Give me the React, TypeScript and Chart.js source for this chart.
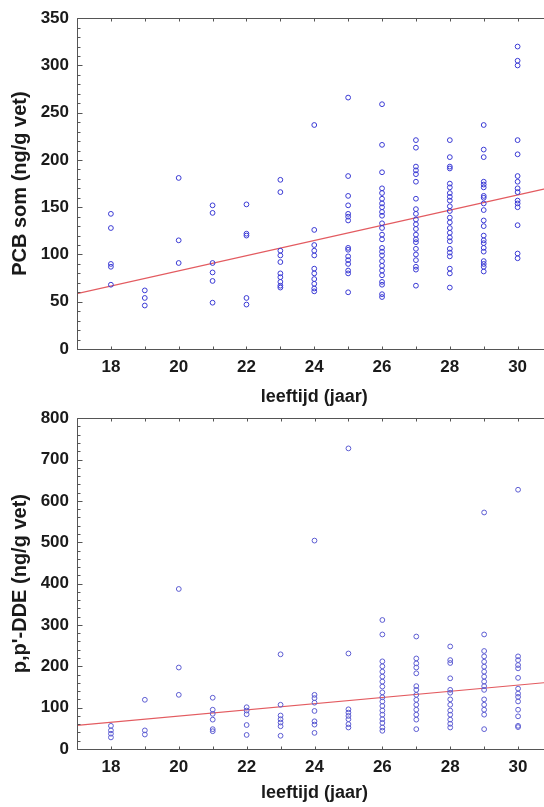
import React, { useEffect, useRef } from "react";
import { Chart, registerables } from "chart.js";

Chart.register(...registerables);

// ---- data ----
const ages = [18, 19, 20, 21, 22, 23, 24, 25, 26, 27, 28, 29, 30];

const pcbByAge = [
  [143, 128, 90, 87, 68],
  [62, 54, 46],
  [181, 115, 91],
  [152, 144, 91, 81, 72, 49],
  [153, 122, 120, 54, 47],
  [179, 166, 104, 99, 92, 80, 76, 71, 67, 65],
  [237, 126, 110, 104, 99, 85, 80, 74, 69, 64, 61],
  [266, 183, 162, 152, 143, 140, 136, 107, 105, 98, 94, 90, 83, 80, 60],
  [259, 216, 187, 170, 165, 159, 154, 150, 145, 141, 133, 128, 121, 116, 107, 103, 99, 93, 88, 83, 78, 71, 68, 58, 55],
  [221, 213, 193, 189, 185, 177, 159, 148, 143, 137, 132, 127, 121, 116, 113, 106, 100, 94, 87, 84, 67],
  [221, 203, 193, 191, 175, 171, 165, 161, 157, 151, 146, 139, 134, 128, 123, 118, 114, 106, 102, 98, 85, 80, 65],
  [237, 211, 203, 177, 174, 171, 162, 160, 154, 147, 136, 130, 120, 115, 112, 107, 103, 93, 90, 87, 82],
  [320, 305, 300, 221, 206, 183, 177, 170, 166, 157, 154, 150, 131, 101, 96],
];

const ddeByAge = [
  [56, 45, 37, 28],
  [119, 45, 35],
  [387, 197, 131],
  [124, 95, 85, 71, 48, 43],
  [101, 93, 84, 58, 34],
  [229, 107, 81, 72, 64, 55, 32],
  [504, 131, 123, 112, 92, 67, 59, 39],
  [727, 231, 96, 88, 80, 72, 60, 52],
  [312, 277, 212, 200, 187, 175, 163, 151, 137, 125, 115, 104, 93, 83, 72, 63, 52, 44],
  [272, 219, 207, 197, 183, 152, 143, 131, 119, 107, 95, 83, 71, 48],
  [248, 215, 208, 171, 143, 136, 120, 107, 93, 83, 71, 61, 52],
  [572, 277, 237, 224, 211, 199, 187, 175, 163, 152, 143, 120, 107, 95, 83, 48],
  [627, 224, 215, 203, 195, 172, 146, 134, 126, 115, 95, 79, 56, 53],
];

// regression line end points (x = 17 and x = 31)
const trendX = [17, 31];
const pcbTrend = [58.5, 171];
const ddeTrend = [57, 162];

const xRange = [17, 31];
const pcbRange = [0, 350];
const ddeRange = [0, 800];

const xTitle = "leeftijd (jaar)";
const pcbTitle = "PCB som (ng/g vet)";
const ddeTitle = "p,p'-DDE (ng/g vet)";

const FONT = "'Liberation Sans', Arial, sans-serif";

const toPoints = (byAge: number[][]) =>
  ages.flatMap((a, i) => byAge[i].map((v) => ({ x: a, y: v })));

const framePlugin = {
  id: "frame",
  afterDraw(chart: any, _args: any, opts: any) {
    const { ctx, chartArea } = chart;
    const { left, top, right, bottom } = chartArea;
    const x = chart.scales.x;
    const y = chart.scales.y;
    ctx.save();
    ctx.strokeStyle = opts.color || "#555";
    ctx.lineWidth = 1;
    const L = Math.round(left) + 0.5;
    const T = Math.round(top) + 0.5;
    const B = Math.round(bottom) + 0.5;
    ctx.beginPath();
    ctx.moveTo(right + 10, T);
    ctx.lineTo(L, T);
    ctx.lineTo(L, B);
    ctx.lineTo(right + 10, B);
    ctx.stroke();
    ctx.beginPath();
    for (let v = x.min; v <= x.max; v += 1) {
      const px = Math.round(x.getPixelForValue(v)) + 0.5;
      ctx.moveTo(px, T);
      ctx.lineTo(px, T + 3);
      ctx.moveTo(px, B);
      ctx.lineTo(px, B - 3);
    }
    for (let v = y.min; v <= y.max; v += opts.minor) {
      const py = Math.round(y.getPixelForValue(v)) + 0.5;
      const major = v % opts.major === 0;
      ctx.moveTo(L, py);
      ctx.lineTo(L + (major ? 5 : 3), py);
    }
    ctx.stroke();
    ctx.restore();
  },
};

type PanelProps = {
  byAge: number[][];
  trend: number[];
  yRange: number[];
  yStep: number;
  yMinor: number;
  yTitle: string;
  height: number;
  top: number;
  tickPad: number;
  titlePad: number;
  pointColor: string;
  weight: string;
  tickSize: number;
  xTitleSize: number;
  yTitleSize: number;
  yTitlePad: number;
};

function Panel(p: PanelProps) {
  const ref = useRef<HTMLCanvasElement>(null);
  useEffect(() => {
    if (!ref.current) return;
    const chart = new Chart(ref.current, {
      type: "scatter",
      data: {
        datasets: [
          {
            type: "line",
            data: trendX.map((xv, i) => ({ x: xv, y: p.trend[i] })),
            borderColor: "#e35b60",
            borderWidth: 1.2,
            pointRadius: 0,
            fill: false,
            order: 2,
          } as any,
          {
            data: toPoints(p.byAge),
            pointRadius: 2.4,
            pointBorderWidth: 1,
            borderColor: p.pointColor,
            backgroundColor: "rgba(0,0,0,0)",
            pointBackgroundColor: "rgba(0,0,0,0)",
            order: 1,
          } as any,
        ],
      },
      options: {
        responsive: false,
        animation: false,
        devicePixelRatio: 1,
        layout: { padding: { top: 16, left: 0, right: 8, bottom: 0 } },
        plugins: {
          legend: { display: false },
          tooltip: { enabled: false },
          frame: { minor: p.yMinor, major: p.yStep, color: "#555" },
        } as any,
        scales: {
          x: {
            type: "linear",
            min: xRange[0],
            max: xRange[1],
            grid: { display: false, drawTicks: false },
            border: { display: false },
            afterFit: (s: any) => {
              s.height = p.height - 349;
            },
            ticks: {
              stepSize: 1,
              autoSkip: false,
              maxRotation: 0,
              padding: p.tickPad,
              color: "#1a1a1a",
              font: { family: FONT, size: p.tickSize, weight: p.weight as any },
              callback: (v: any) => (Number(v) % 2 === 0 ? String(v) : ""),
            },
            title: {
              display: true,
              text: xTitle,
              color: "#1a1a1a",
              font: { family: FONT, size: p.xTitleSize, weight: p.weight as any },
              padding: { top: 0, bottom: p.titlePad },
            },
          },
          y: {
            type: "linear",
            min: p.yRange[0],
            max: p.yRange[1],
            grid: { display: false, drawTicks: false },
            border: { display: false },
            afterFit: (s: any) => {
              s.width = 77;
            },
            ticks: {
              stepSize: p.yStep,
              padding: 8,
              color: "#1a1a1a",
              font: { family: FONT, size: p.tickSize, weight: p.weight as any },
            },
            title: {
              display: true,
              text: p.yTitle,
              color: "#1a1a1a",
              font: { family: FONT, size: p.yTitleSize, weight: p.weight as any },
              padding: { top: p.yTitlePad, bottom: 0 },
            },
          },
        },
      },
      plugins: [framePlugin as any],
    });
    return () => chart.destroy();
  }, []);
  return (
    <canvas
      ref={ref}
      width={560}
      height={p.height}
      style={{ position: "absolute", left: 0, top: p.top, width: 560, height: p.height, display: "block" }}
    />
  );
}

export default function App() {
  return (
    <div
      style={{
        position: "fixed",
        left: 0,
        top: 0,
        width: 544,
        height: 807,
        overflow: "hidden",
        background: "#fff",
      }}
    >
      <Panel
        byAge={pcbByAge}
        trend={pcbTrend}
        yRange={pcbRange}
        yStep={50}
        yMinor={10}
        yTitle={pcbTitle}
        height={410}
        top={0}
        tickPad={8.5}
        titlePad={2}
        pointColor="#3a3ad4"
        weight="bold"
        tickSize={17}
        xTitleSize={18}
        yTitleSize={20}
        yTitlePad={8}
      />
      <Panel
        byAge={ddeByAge}
        trend={ddeTrend}
        yRange={ddeRange}
        yStep={100}
        yMinor={20}
        yTitle={ddeTitle}
        height={407}
        top={400}
        tickPad={8}
        titlePad={3}
        pointColor="#5c5cd2"
        weight="bold"
        tickSize={17}
        xTitleSize={18}
        yTitleSize={20}
        yTitlePad={8}
      />
    </div>
  );
}
